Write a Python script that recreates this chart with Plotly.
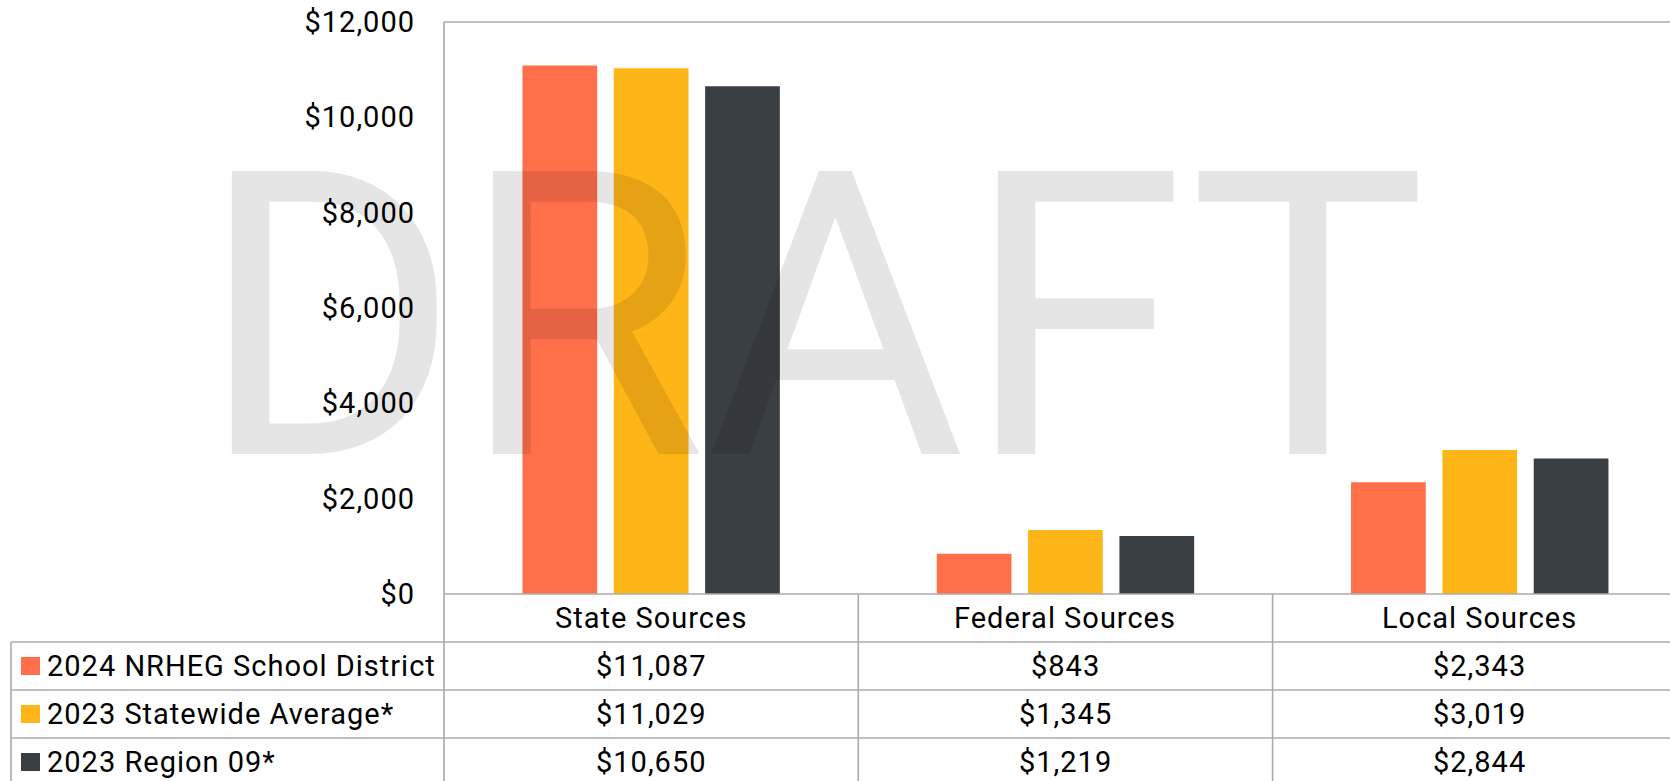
import plotly.graph_objects as go

# ---------------- data ----------------
categories = ["State Sources", "Federal Sources", "Local Sources"]
series_names = ["2024 NRHEG School District", "2023 Statewide Average*", "2023 Region 09*"]
nrheg_2024 = [11087, 843, 2343]
statewide_2023 = [11029, 1345, 3019]
region09_2023 = [10650, 1219, 2844]
y_ticks = [0, 2000, 4000, 6000, 8000, 10000, 12000]
watermark_text = "DRAFT"

series_values = [nrheg_2024, statewide_2023, region09_2023]
colors = ["#FF6F4A", "#FEB517", "#3A3F43"]

# ---------------- layout constants (pixels) ----------------
W, H = 1670, 781
PLOT_L, PLOT_T, PLOT_B = 444, 22, 594
ROW_H = 48
TABLE_L = 11
CAT_W = 414.3
FONT = "Roboto"
FS = 29
LS = 1
GRID = "#ababab"
GRID_W = 1.6


def py(y):
    return (H - y) / H


def px(x):
    return x / W


def sp(t):
    return f'<span style="letter-spacing:{LS}px">{t}</span>'


def money(v):
    return f"${v:,}"


fig = go.Figure()
for name, vals, col in zip(series_names, series_values, colors):
    fig.add_trace(go.Bar(x=categories, y=vals, name=name, marker=dict(color=col, line=dict(width=0)),
                         showlegend=False, hoverinfo="skip"))

shapes = []
line = dict(color=GRID, width=GRID_W)
# plot frame
shapes.append(dict(type="line", xref="paper", yref="paper", x0=px(PLOT_L), x1=1, y0=py(PLOT_T), y1=py(PLOT_T), line=line))
shapes.append(dict(type="line", xref="paper", yref="paper", x0=px(PLOT_L), x1=px(PLOT_L), y0=py(PLOT_T), y1=0, line=line))
shapes.append(dict(type="line", xref="paper", yref="paper", x0=px(PLOT_L), x1=1, y0=py(PLOT_B), y1=py(PLOT_B), line=line))
# table rows
for i in range(len(series_names)):
    yy = py(PLOT_B + ROW_H * (i + 1))
    shapes.append(dict(type="line", xref="paper", yref="paper", x0=px(TABLE_L), x1=1, y0=yy, y1=yy, line=line))
shapes.append(dict(type="line", xref="paper", yref="paper", x0=px(TABLE_L), x1=px(TABLE_L),
                   y0=py(PLOT_B + ROW_H), y1=0, line=line))
# category separators
for i in range(len(categories) - 1):
    shapes.append(dict(type="line", xref="x", yref="paper", x0=i + 0.5, x1=i + 0.5, y0=py(PLOT_B), y1=0, line=line))

annotations = []
tfont = dict(family=FONT, size=FS, color="#000000")
# header (category) row
for c in categories:
    annotations.append(dict(x=c, xref="x", y=py(PLOT_B + ROW_H / 2), yref="paper", text=sp(c),
                            showarrow=False, xanchor="center", yanchor="middle", font=tfont))
# data rows
for i, (name, vals, col) in enumerate(zip(series_names, series_values, colors)):
    yc = PLOT_B + ROW_H * (i + 1.5)
    for c, v in zip(categories, vals):
        annotations.append(dict(x=c, xref="x", y=py(yc), yref="paper", text=sp(money(v)),
                                showarrow=False, xanchor="center", yanchor="middle", font=tfont))
    annotations.append(dict(x=px(45), xref="paper", y=py(yc), yref="paper", text=sp(name),
                            showarrow=False, xanchor="left", yanchor="middle", font=tfont))
    shapes.append(dict(type="rect", xref="paper", yref="paper", x0=px(21), x1=px(40),
                       y0=py(yc + 9), y1=py(yc - 9), fillcolor=col, line=dict(width=0)))

# watermark
annotations.append(dict(x=px(812), xref="paper", y=py(318), yref="paper", text=watermark_text,
                        showarrow=False, xanchor="center", yanchor="middle",
                        font=dict(family=FONT, size=398, color="rgba(0,0,0,0.1)")))

fig.update_layout(
    width=W, height=H,
    margin=dict(l=0, r=0, t=0, b=0, pad=0, autoexpand=False),
    paper_bgcolor="white", plot_bgcolor="white",
    barmode="group", bargap=0.3386, bargroupgap=0.182,
    xaxis=dict(domain=[px(PLOT_L), 1], range=[-0.5, -0.5 + (W - PLOT_L) / CAT_W], automargin=False,
               showticklabels=False, showgrid=False, zeroline=False, showline=False, ticks=""),
    yaxis=dict(domain=[py(PLOT_B), py(PLOT_T)], range=[0, y_ticks[-1]], automargin=False,
               tickvals=y_ticks, ticktext=[sp(money(v)) for v in y_ticks],
               tickfont=tfont, showgrid=False, zeroline=False, showline=False, ticks="",
               ticklabelstandoff=28),
    shapes=shapes,
    annotations=annotations,
    hovermode=False,
)

fig.write_html("out.html", config={"displayModeBar": False},
               post_script="document.body.style.margin='0';document.body.style.overflow='hidden';")
